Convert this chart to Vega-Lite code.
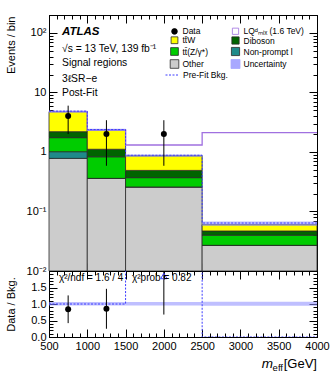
{
  "$schema": "https://vega.github.io/schema/vega-lite/v6.json",
  "padding": {"left": 4, "top": 14, "right": 0, "bottom": 0},
  "spacing": 0,
  "bounds": "flush",
  "config": {
    "font": "Liberation Sans",
    "view": {"stroke": "black", "strokeWidth": 1},
    "axis": {"labelFont": "Liberation Sans", "titleFont": "Liberation Sans", "labelColor": "black", "titleColor": "black", "tickColor": "black", "domainColor": "black", "labelFontSize": 11, "titleFontSize": 11, "titleFontWeight": "normal", "labelFlush": false, "labelOverlap": false, "labelBound": false, "grid": false, "zindex": 1},
    "text": {"font": "Liberation Sans"}
  },
  "vconcat": [
    {
      "width": 268,
      "height": 256,
      "resolve": {"axis": {"x": "independent", "y": "independent"}},
      "layer": [
        {
          "data": {"values": [
            {"lo": 500, "hi": 1000, "process": "Other", "n": 0.78},
            {"lo": 500, "hi": 1000, "process": "Non-prompt l", "n": 0.23},
            {"lo": 500, "hi": 1000, "process": "tt̄(Z/γ*)", "n": 0.73},
            {"lo": 500, "hi": 1000, "process": "Diboson", "n": 0.45},
            {"lo": 500, "hi": 1000, "process": "tt̄W", "n": 2.57},
            {"lo": 1000, "hi": 1500, "process": "Other", "n": 0.36},
            {"lo": 1000, "hi": 1500, "process": "Non-prompt l", "n": 0.0},
            {"lo": 1000, "hi": 1500, "process": "tt̄(Z/γ*)", "n": 0.47},
            {"lo": 1000, "hi": 1500, "process": "Diboson", "n": 0.28},
            {"lo": 1000, "hi": 1500, "process": "tt̄W", "n": 1.23},
            {"lo": 1500, "hi": 2500, "process": "Other", "n": 0.258},
            {"lo": 1500, "hi": 2500, "process": "Non-prompt l", "n": 0.0},
            {"lo": 1500, "hi": 2500, "process": "tt̄(Z/γ*)", "n": 0.112},
            {"lo": 1500, "hi": 2500, "process": "Diboson", "n": 0.12},
            {"lo": 1500, "hi": 2500, "process": "tt̄W", "n": 0.37},
            {"lo": 2500, "hi": 4000, "process": "Other", "n": 0.027},
            {"lo": 2500, "hi": 4000, "process": "Non-prompt l", "n": 0.0},
            {"lo": 2500, "hi": 4000, "process": "tt̄(Z/γ*)", "n": 0.013},
            {"lo": 2500, "hi": 4000, "process": "Diboson", "n": 0.007},
            {"lo": 2500, "hi": 4000, "process": "tt̄W", "n": 0.013}
          ]},
          "transform": [{"stack": "n", "groupby": ["lo"], "as": ["y0", "y1"]}],
          "mark": {"type": "rect", "stroke": "#2a2a2a", "strokeWidth": 0.8},
          "encoding": {
            "x": {"field": "lo", "type": "quantitative", "scale": {"domain": [500, 4000], "nice": false, "zero": false},
              "axis": {"orient": "bottom", "values": [500, 1000, 1500, 2000, 2500, 3000, 3500, 4000], "tickSize": -8, "labels": false, "title": null, "domain": true}},
            "x2": {"field": "hi"},
            "y": {"field": "y1", "type": "quantitative", "scale": {"type": "log", "domain": [0.01, 200], "nice": false, "clamp": true},
              "axis": {"orient": "left", "values": [0.01, 0.1, 1, 10, 100], "tickSize": -8,
                "labelExpr": "datum.value == 0.01 ? '10⁻²' : datum.value == 0.1 ? '10⁻¹' : datum.value == 1 ? '1' : datum.value == 10 ? '10' : '10²'",
                "labelPadding": 11, "domain": true,
                "title": "Events / bin", "titleAngle": -90, "titleX": -38, "titleY": 1, "titleAlign": "right", "titleBaseline": "middle"}},
            "y2": {"field": "y0"},
            "fill": {"field": "process", "type": "nominal",
              "scale": {"domain": ["Data", "LQᵈₘᵢₓ (1.6 TeV)", "tt̄W", "Diboson", "tt̄(Z/γ*)", "Non-prompt l", "Other", "Uncertainty"],
                "range": ["black", "white", "#ffff00", "#006400", "#00cc00", "#1f8a8a", "#cccccc", "#a8a8ff"]},
              "legend": {"orient": "none", "legendX": 120.5, "legendY": 12, "direction": "horizontal", "columns": 2, "columnPadding": 20, "rowPadding": -1.0, "gridAlign": "each",
                "symbolOpacity": 1, "labelFontSize": 8.5, "labelFont": "Liberation Sans", "labelColor": "black", "labelOffset": 3, "title": null, "padding": 0, "symbolStrokeWidth": 0.8}}
          }
        },
        {
          "data": {"values": [
            {"process": "Data"}, {"process": "LQᵈₘᵢₓ (1.6 TeV)"}, {"process": "tt̄W"}, {"process": "Diboson"},
            {"process": "tt̄(Z/γ*)"}, {"process": "Non-prompt l"}, {"process": "Other"}, {"process": "Uncertainty"}
          ]},
          "mark": {"type": "point", "filled": true, "opacity": 0, "strokeWidth": 0.8},
          "encoding": {
            "fill": {"field": "process", "type": "nominal"},
            "stroke": {"field": "process", "type": "nominal",
              "scale": {"domain": ["Data", "LQᵈₘᵢₓ (1.6 TeV)", "tt̄W", "Diboson", "tt̄(Z/γ*)", "Non-prompt l", "Other", "Uncertainty"],
                "range": ["black", "#a070e0", "#2a2a2a", "#2a2a2a", "#2a2a2a", "#2a2a2a", "#2a2a2a", "#a8a8ff"]}},
            "shape": {"field": "process", "type": "nominal",
              "scale": {"domain": ["Data", "LQᵈₘᵢₓ (1.6 TeV)", "tt̄W", "Diboson", "tt̄(Z/γ*)", "Non-prompt l", "Other", "Uncertainty"],
                "range": ["circle", "square", "square", "square", "square", "square", "square", "square"]}},
            "size": {"field": "process", "type": "ordinal",
              "scale": {"domain": ["Data", "LQᵈₘᵢₓ (1.6 TeV)", "tt̄W", "Diboson", "tt̄(Z/γ*)", "Non-prompt l", "Other", "Uncertainty"],
                "range": [32, 81, 81, 81, 81, 81, 81, 81]}}
          }
        },
        {
          "data": {"values": [
            {"m": 500, "n": 4.76}, {"m": 1000, "n": 2.34}, {"m": 1500, "n": 1.31}, {"m": 2500, "n": 2.11}, {"m": 4000, "n": 2.11}
          ]},
          "mark": {"type": "line", "interpolate": "step-after", "color": "#a070e0", "strokeWidth": 1.3},
          "encoding": {
            "x": {"field": "m", "type": "quantitative", "axis": null},
            "y": {"field": "n", "type": "quantitative", "axis": null}
          }
        },
        {
          "data": {"values": [
            {"lo": 500, "hi": 1000, "dn": 4.55, "up": 4.98},
            {"lo": 1000, "hi": 1500, "dn": 2.24, "up": 2.45},
            {"lo": 1500, "hi": 2500, "dn": 0.82, "up": 0.91},
            {"lo": 2500, "hi": 4000, "dn": 0.057, "up": 0.068}
          ]},
          "mark": {"type": "rect", "fill": "#8a8aff", "opacity": 0.55},
          "encoding": {
            "x": {"field": "lo", "type": "quantitative", "axis": null},
            "x2": {"field": "hi"},
            "y": {"field": "dn", "type": "quantitative", "axis": null},
            "y2": {"field": "up"}
          }
        },
        {
          "data": {"values": [
            {"m": 500, "n": 4.85, "series": "Pre-Fit Bkg."}, {"m": 1000, "n": 2.38, "series": "Pre-Fit Bkg."}, {"m": 1500, "n": 0.88, "series": "Pre-Fit Bkg."}, {"m": 2500, "n": 0.064, "series": "Pre-Fit Bkg."}, {"m": 4000, "n": 0.064, "series": "Pre-Fit Bkg."}
          ]},
          "mark": {"type": "line", "interpolate": "step-after", "color": "#3c3cff", "strokeWidth": 1},
          "encoding": {
            "x": {"field": "m", "type": "quantitative", "axis": null},
            "y": {"field": "n", "type": "quantitative", "axis": null},
            "strokeDash": {"field": "series", "type": "nominal", "scale": {"domain": ["Pre-Fit Bkg."], "range": [[2, 1.5]]},
              "legend": {"orient": "none", "legendX": 116, "legendY": 52.5, "title": null, "padding": 0, "symbolType": "stroke", "symbolSize": 196, "symbolStrokeColor": "#3c3cff", "symbolStrokeWidth": 1, "labelFontSize": 8.5, "labelFont": "Liberation Sans", "labelColor": "black", "labelOffset": 3}}
          }
        },
        {
          "data": {"values": [
            {"m": 750, "n": 4, "dn": 2, "up": 6},
            {"m": 1250, "n": 2, "dn": 0.586, "up": 3.414},
            {"m": 2000, "n": 2, "dn": 0.586, "up": 3.414}
          ]},
          "layer": [
            {"mark": {"type": "rule", "color": "black", "strokeWidth": 1},
             "encoding": {"x": {"field": "m", "type": "quantitative", "axis": null}, "y": {"field": "dn", "type": "quantitative", "axis": null}, "y2": {"field": "up"}}},
            {"mark": {"type": "point", "filled": true, "color": "black", "size": 36, "opacity": 1},
             "encoding": {
               "x": {"field": "m", "type": "quantitative",
                 "axis": {"orient": "top", "values": [500, 1000, 1500, 2000, 2500, 3000, 3500, 4000], "tickSize": -8, "labels": false, "title": null, "domain": true}},
               "y": {"field": "n", "type": "quantitative",
                 "axis": {"orient": "right", "values": [0.01, 0.1, 1, 10, 100], "tickSize": -8, "labels": false, "title": null, "domain": true}}
             }},
            {"mark": {"type": "point", "opacity": 0},
             "encoding": {
               "x": {"field": "m", "type": "quantitative",
                 "axis": {"orient": "bottom", "values": [600,700,800,900,1100,1200,1300,1400,1600,1700,1800,1900,2100,2200,2300,2400,2600,2700,2800,2900,3100,3200,3300,3400,3600,3700,3800,3900], "tickSize": -4, "labels": false, "title": null, "domain": false}},
               "y": {"field": "n", "type": "quantitative",
                 "axis": {"orient": "left", "values": [0.02,0.03,0.04,0.05,0.06,0.07,0.08,0.09,0.2,0.3,0.4,0.5,0.6,0.7,0.8,0.9,2,3,4,5,6,7,8,9,20,30,40,50,60,70,80,90,200], "tickSize": -4, "labels": false, "title": null, "domain": false}}
             }},
            {"mark": {"type": "point", "opacity": 0},
             "encoding": {
               "x": {"field": "m", "type": "quantitative",
                 "axis": {"orient": "top", "values": [600,700,800,900,1100,1200,1300,1400,1600,1700,1800,1900,2100,2200,2300,2400,2600,2700,2800,2900,3100,3200,3300,3400,3600,3700,3800,3900], "tickSize": -4, "labels": false, "title": null, "domain": false}},
               "y": {"field": "n", "type": "quantitative",
                 "axis": {"orient": "right", "values": [0.02,0.03,0.04,0.05,0.06,0.07,0.08,0.09,0.2,0.3,0.4,0.5,0.6,0.7,0.8,0.9,2,3,4,5,6,7,8,9,20,30,40,50,60,70,80,90,200], "tickSize": -4, "labels": false, "title": null, "domain": false}}
             }}
          ]
        },
        {
          "data": {"values": [{"t": "ATLAS", "m": 670, "n": 104}]},
          "mark": {"type": "text", "align": "left", "baseline": "middle", "fontSize": 11.5, "fontWeight": "bold", "fontStyle": "italic", "color": "black"},
          "encoding": {"x": {"field": "m", "type": "quantitative", "axis": null}, "y": {"field": "n", "type": "quantitative", "axis": null}, "text": {"field": "t"}}
        },
        {
          "data": {"values": [
            {"t": "√s = 13 TeV, 139 fb⁻¹", "m": 670, "n": 54.7},
            {"t": "Signal regions", "m": 670, "n": 31.3},
            {"t": "3ℓSR−e", "m": 670, "n": 16.8},
            {"t": "Post-Fit", "m": 670, "n": 9.8}
          ]},
          "mark": {"type": "text", "align": "left", "baseline": "middle", "fontSize": 10.3, "color": "black"},
          "encoding": {"x": {"field": "m", "type": "quantitative", "axis": null}, "y": {"field": "n", "type": "quantitative", "axis": null}, "text": {"field": "t"}}
        }
      ]
    },
    {
      "width": 268,
      "height": 66,
      "resolve": {"axis": {"x": "independent", "y": "independent"}},
      "layer": [
        {
          "data": {"values": [
            {"lo": 500, "hi": 1000, "dn": 0.955, "up": 1.06},
            {"lo": 1000, "hi": 1500, "dn": 0.955, "up": 1.06},
            {"lo": 1500, "hi": 2500, "dn": 0.955, "up": 1.06},
            {"lo": 2500, "hi": 4000, "dn": 0.95, "up": 1.07}
          ]},
          "mark": {"type": "rect", "fill": "#8a8aff", "opacity": 0.55},
          "encoding": {
            "x": {"field": "lo", "type": "quantitative", "scale": {"domain": [500, 4000], "nice": false, "zero": false},
              "axis": {"orient": "bottom", "values": [500, 1000, 1500, 2000, 2500, 3000, 3500, 4000], "tickSize": -8, "format": "d", "labelPadding": 11, "title": null, "domain": true}},
            "x2": {"field": "hi"},
            "y": {"field": "dn", "type": "quantitative", "scale": {"domain": [0, 2], "nice": false},
              "axis": {"orient": "left", "values": [0, 0.5, 1, 1.5], "tickSize": -8, "labelPadding": 11, "domain": true,
                "title": "Data / Bkg.", "titleAngle": -90, "titleX": -38, "titleY": 33, "titleAlign": "center", "titleBaseline": "middle"}},
            "y2": {"field": "up"}
          }
        },
        {
          "data": {"values": [
            {"m": 500, "r": 1.0}, {"m": 1500, "r": 2.6}, {"m": 2500, "r": 0}, {"m": 4000, "r": 0}
          ]},
          "mark": {"type": "line", "interpolate": "step-after", "color": "#3c3cff", "strokeWidth": 1, "strokeDash": [2, 1.5], "clip": true},
          "encoding": {
            "x": {"field": "m", "type": "quantitative", "axis": null},
            "y": {"field": "r", "type": "quantitative", "axis": null}
          }
        },
        {
          "data": {"values": [
            {"m": 750, "r": 0.84, "dn": 0.42, "up": 1.26},
            {"m": 1250, "r": 0.855, "dn": 0.25, "up": 1.46},
            {"m": 2000, "r": 2.33, "dn": 0.68, "up": 3.97}
          ]},
          "mark": {"type": "rule", "color": "black", "strokeWidth": 1, "clip": true},
          "encoding": {"x": {"field": "m", "type": "quantitative", "axis": null}, "y": {"field": "dn", "type": "quantitative", "axis": null}, "y2": {"field": "up"}}
        },
        {
          "data": {"values": [{"m": 750, "r": 0.84}, {"m": 1250, "r": 0.855}]},
          "layer": [
            {"mark": {"type": "point", "filled": true, "color": "black", "size": 36, "opacity": 1},
             "encoding": {
               "x": {"field": "m", "type": "quantitative",
                 "axis": {"orient": "top", "values": [500, 1000, 1500, 2000, 2500, 3000, 3500, 4000], "tickSize": -8, "labels": false, "title": null, "domain": true}},
               "y": {"field": "r", "type": "quantitative",
                 "axis": {"orient": "right", "values": [0, 0.5, 1, 1.5, 2], "tickSize": -8, "labels": false, "title": null, "domain": true}}
             }},
            {"mark": {"type": "point", "opacity": 0},
             "encoding": {
               "x": {"field": "m", "type": "quantitative",
                 "axis": {"orient": "bottom", "values": [600,700,800,900,1100,1200,1300,1400,1600,1700,1800,1900,2100,2200,2300,2400,2600,2700,2800,2900,3100,3200,3300,3400,3600,3700,3800,3900], "tickSize": -4, "labels": false, "title": null, "domain": false}},
               "y": {"field": "r", "type": "quantitative",
                 "axis": {"orient": "left", "values": [0.1,0.2,0.3,0.4,0.6,0.7,0.8,0.9,1.1,1.2,1.3,1.4,1.6,1.7,1.8,1.9], "tickSize": -4, "labels": false, "title": null, "domain": false}}
             }},
            {"mark": {"type": "point", "opacity": 0},
             "encoding": {
               "x": {"field": "m", "type": "quantitative",
                 "axis": {"orient": "top", "values": [600,700,800,900,1100,1200,1300,1400,1600,1700,1800,1900,2100,2200,2300,2400,2600,2700,2800,2900,3100,3200,3300,3400,3600,3700,3800,3900], "tickSize": -4, "labels": false, "title": null, "domain": false}},
               "y": {"field": "r", "type": "quantitative",
                 "axis": {"orient": "right", "values": [0.1,0.2,0.3,0.4,0.6,0.7,0.8,0.9,1.1,1.2,1.3,1.4,1.6,1.7,1.8,1.9], "tickSize": -4, "labels": false, "title": null, "domain": false}}
             }}
          ]
        },
        {
          "data": {"values": [{"m": 2000, "r": 1.85}]},
          "mark": {"type": "point", "shape": "triangle-up", "filled": false, "color": "#3c3cff", "size": 40, "strokeWidth": 1, "opacity": 1},
          "encoding": {"x": {"field": "m", "type": "quantitative", "axis": null}, "y": {"field": "r", "type": "quantitative", "axis": null}}
        },
        {
          "data": {"values": [
            {"t": "χ²/ndf = 1.6 / 4", "m": 630, "r": 1.79},
            {"t": "χ²prob = 0.82", "m": 1584, "r": 1.79}
          ]},
          "mark": {"type": "text", "align": "left", "baseline": "middle", "fontSize": 10, "color": "black"},
          "encoding": {"x": {"field": "m", "type": "quantitative", "axis": null}, "y": {"field": "r", "type": "quantitative", "axis": null}, "text": {"field": "t"}}
        },
        {
          "data": {"values": [{"t": "m", "m": 3425, "r": -0.82}]},
          "mark": {"type": "text", "align": "right", "baseline": "middle", "fontSize": 13.5, "fontStyle": "italic", "color": "black", "clip": false},
          "encoding": {"x": {"field": "m", "type": "quantitative", "axis": null}, "y": {"field": "r", "type": "quantitative", "axis": null}, "text": {"field": "t"}}
        },
        {
          "data": {"values": [{"t": "eff", "m": 3556, "r": -0.93}]},
          "mark": {"type": "text", "align": "right", "baseline": "middle", "fontSize": 9.5, "color": "black", "clip": false},
          "encoding": {"x": {"field": "m", "type": "quantitative", "axis": null}, "y": {"field": "r", "type": "quantitative", "axis": null}, "text": {"field": "t"}}
        },
        {
          "data": {"values": [{"t": "[GeV]", "m": 4000, "r": -0.82}]},
          "mark": {"type": "text", "align": "right", "baseline": "middle", "fontSize": 13, "color": "black", "clip": false},
          "encoding": {"x": {"field": "m", "type": "quantitative", "axis": null}, "y": {"field": "r", "type": "quantitative", "axis": null}, "text": {"field": "t"}}
        }
      ]
    }
  ]
}
